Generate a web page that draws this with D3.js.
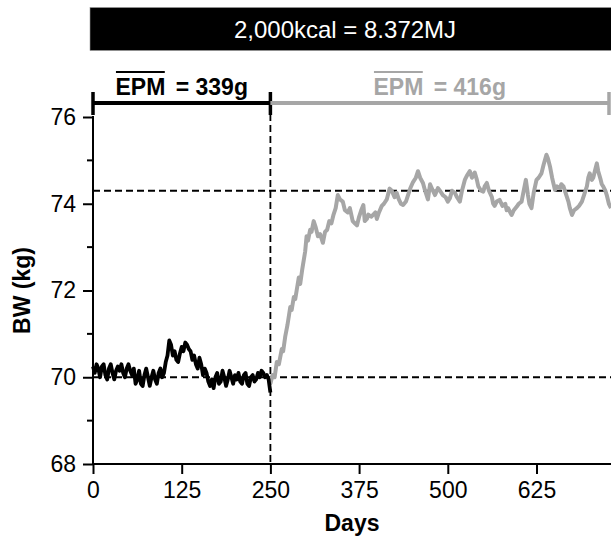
<!DOCTYPE html>
<html><head><meta charset="utf-8">
<script src="https://cdn.jsdelivr.net/npm/d3@7"></script>
<style>
html,body{margin:0;padding:0;background:#fff;}
svg{display:block;}
text{font-family:"Liberation Sans",Arial,sans-serif;}
</style></head>
<body>
<svg id="chart" width="611" height="539"></svg>
<script>
// ---- data ----
const headerText = "2,000kcal = 8.372MJ";
const phaseStarts = [0, 250];
const phaseEnds = [250, 730];
const phaseEPM = ["339g", "416g"];
const phaseMeanBW = [70.0, 74.3];
const xTicks = [0, 125, 250, 375, 500, 625];
const yTicks = [68, 70, 72, 74, 76];
const yMinorTicks = [69, 71, 73, 75];

const blackDays = [0,2.5,5,7.5,10,12.5,15,17.5,20,22.5,25,27.5,30,32.5,35,37.5,40,42.5,45,47.5,50,52.5,55,57.5,60,62.5,65,67.5,70,72.5,75,77.5,80,82.5,85,87.5,90,92.5,95,97.5,100,102.5,105,107.5,110,112.5,115,117.5,120,122.5,125,127.5,130,132.5,135,137.5,140,142.5,145,147.5,150,152.5,155,157.5,160,162.5,165,167.5,170,172.5,175,177.5,180,182.5,185,187.5,190,192.5,195,197.5,200,202.5,205,207.5,210,212.5,215,217.5,220,222.5,225,227.5,230,232.5,235,237.5,240,242.5,245,247.5,250];
const blackBW = [70.25,70.1,70.3,70.2,70.0,70.25,70.3,70.05,69.95,70.2,70.3,70.1,69.95,70.15,70.25,70.15,70.3,70.1,70.0,70.2,70.3,70.15,70.05,70.2,69.85,69.95,70.15,69.85,69.8,70.05,70.2,70.0,69.8,70.0,70.15,69.95,69.85,70.1,70.2,70.0,70.1,70.35,70.5,70.85,70.75,70.5,70.6,70.4,70.35,70.55,70.7,70.6,70.8,70.75,70.65,70.6,70.4,70.5,70.3,70.2,70.45,70.3,70.05,70.2,70.1,69.9,69.8,69.95,69.75,70.0,70.1,69.85,69.9,70.15,70.0,69.8,69.95,70.15,70.0,69.85,70.05,69.95,70.1,69.9,69.85,70.05,70.1,69.85,69.8,70.0,70.05,69.9,69.95,70.1,70.0,70.15,70.1,70.0,70.05,69.95,69.65];

const grayDays = [250,253,256,259,262,266,268,271,274,278,280,283,285,287,290,292,295,299,301,303,306,308,311,314,317,320,324,327,330,333,336,339,342,345,348,352,355,359,362,366,369,372,375,378,381,383,386,388,392,395,398,400,403,407,410,414,418,421,425,428,431,434,437,441,444,447,451,455,458,461,465,468,472,475,479,482,486,489,493,497,500,503,506,510,513,517,520,524,527,531,534,538,541,543,547,550,552,555,558,562,564,566,569,573,577,581,583,585,588,590,593,597,600,604,607,610,613,615,618,621,625,628,632,635,639,641,644,647,651,654,658,660,663,667,670,672,675,678,682,685,689,692,696,698,700,703,705,708,710,712,715,717,719,722,724,727,730];
const grayBW = [69.85,70.05,70.0,70.35,70.3,70.65,70.6,70.95,71.2,71.62,71.55,71.85,71.8,72.0,72.3,72.15,72.5,72.9,73.25,73.15,73.4,73.35,73.6,73.45,73.25,73.3,73.1,73.35,73.4,73.6,73.55,73.75,73.9,74.2,74.1,74.05,73.85,73.8,73.9,73.6,73.55,73.5,73.7,73.85,73.97,73.6,73.65,73.75,73.7,73.75,73.8,73.65,73.8,73.95,74.0,74.1,74.35,74.3,74.15,74.25,74.1,74.0,73.97,74.05,74.2,74.35,74.5,74.6,74.75,74.6,74.48,74.3,74.1,74.45,74.3,74.2,74.36,74.3,74.2,74.15,74.05,74.13,74.3,74.25,74.15,74.05,74.3,74.55,74.65,74.75,74.6,74.72,74.55,74.4,74.3,74.28,74.4,74.48,74.3,74.16,74.0,73.95,74.05,74.09,73.95,74.0,73.85,73.9,73.8,73.74,73.85,73.93,74.0,74.05,74.3,74.55,74.2,74.0,73.9,74.25,74.55,74.6,74.7,74.9,75.13,75.05,74.86,74.6,74.32,74.4,74.36,74.45,74.4,74.2,74.05,73.9,73.74,73.85,73.9,73.95,74.05,74.2,74.4,74.6,74.7,74.55,74.6,74.8,74.93,74.75,74.58,74.45,74.4,74.3,74.2,74.0,73.9];

// ---- layout ----
const svg = d3.select("#chart");
const FONT = 23;
const grayCol = "#a6a6a6";
const x = d3.scaleLinear().domain([0, 730]).range([93, 611]);
const y = d3.scaleLinear().domain([68, 76]).range([464, 117]);

// header
svg.append("rect").attr("x", 90).attr("y", 7.5).attr("width", 530).attr("height", 43)
  .attr("fill", "#000").attr("stroke", "#999").attr("stroke-width", 0.6);
svg.append("text").attr("x", 345).attr("y", 38).attr("text-anchor", "middle")
  .attr("fill", "#fff").attr("font-size", 24).text(headerText);

// dashed reference lines
svg.selectAll(".meanline").data(phaseMeanBW).enter().append("line")
  .attr("x1", x(0)).attr("x2", x(730))
  .attr("y1", d => y(d)).attr("y2", d => y(d))
  .attr("stroke", "#000").attr("stroke-width", 1.8).attr("stroke-dasharray", "7,4");
svg.append("line").attr("x1", x(250)).attr("x2", x(250)).attr("y1", 103).attr("y2", y(68))
  .attr("stroke", "#000").attr("stroke-width", 1.8).attr("stroke-dasharray", "7,4");

// lines
const line = d3.line().x(d => x(d[0])).y(d => y(d[1]));
svg.append("path").datum(grayDays.map((d, i) => [d, grayBW[i]]))
  .attr("d", line).attr("fill", "none").attr("stroke", grayCol)
  .attr("stroke-width", 4).attr("stroke-linejoin", "round");
svg.append("path").datum(blackDays.map((d, i) => [d, blackBW[i]]))
  .attr("d", line).attr("fill", "none").attr("stroke", "#000")
  .attr("stroke-width", 3.8).attr("stroke-linejoin", "round");

// axes
const xAxis = svg.append("g").attr("transform", `translate(0,${y(68)})`)
  .call(d3.axisBottom(x).tickValues(xTicks).tickSize(10).tickPadding(8).tickFormat(d3.format("d")));
const yAxis = svg.append("g").attr("transform", `translate(${x(0)},0)`)
  .call(d3.axisLeft(y).tickValues(yTicks).tickSize(10).tickPadding(7).tickFormat(d3.format("d")));
[xAxis, yAxis].forEach(g => {
  g.select(".domain").remove();
  g.selectAll(".tick line").attr("stroke", "#000").attr("stroke-width", 2);
  g.selectAll(".tick text").attr("font-size", FONT).attr("fill", "#000")
    .attr("font-family", '"Liberation Sans",Arial,sans-serif');
});
svg.append("line").attr("x1", x(0)).attr("x2", 611).attr("y1", y(68)).attr("y2", y(68))
  .attr("stroke", "#000").attr("stroke-width", 2);
svg.append("line").attr("x1", x(0)).attr("x2", x(0)).attr("y1", y(76) - 1).attr("y2", y(68))
  .attr("stroke", "#000").attr("stroke-width", 2);
svg.selectAll(".minor").data(yMinorTicks).enter().append("line")
  .attr("x1", x(0) - 6).attr("x2", x(0)).attr("y1", d => y(d)).attr("y2", d => y(d))
  .attr("stroke", "#000").attr("stroke-width", 2);

// axis titles
svg.append("text").attr("x", 352).attr("y", 531).attr("text-anchor", "middle")
  .attr("font-size", FONT).attr("font-weight", "bold").text("Days");
svg.append("text").attr("transform", `translate(30,${(y(68) + y(76)) / 2}) rotate(-90)`)
  .attr("text-anchor", "middle").attr("font-size", FONT).attr("font-weight", "bold").text("BW (kg)");

// phase bars
const barY = 103;
phaseStarts.forEach((s, i) => {
  const col = i === 0 ? "#000" : grayCol;
  const x1 = x(s), x2 = i === 0 ? x(phaseEnds[i]) : 609;
  svg.append("line").attr("x1", x1).attr("x2", x2).attr("y1", barY).attr("y2", barY)
    .attr("stroke", col).attr("stroke-width", 4);
  const caps = i === 0 ? [x1, x2] : [x2];
  caps.forEach(cx => svg.append("line").attr("x1", cx).attr("x2", cx)
    .attr("y1", barY - 11).attr("y2", barY + 12).attr("stroke", col).attr("stroke-width", 3.5));
  const t = svg.append("text").attr("x", (x1 + x2) / 2).attr("y", 95)
    .attr("text-anchor", "middle").attr("font-size", FONT).attr("font-weight", "bold").attr("fill", col);
  t.append("tspan").text("EPM");
  t.append("tspan").attr("dx", 4).text(" = " + phaseEPM[i]);
  const node = t.node();
  const bb = node.getBBox();
  const w = node.getSubStringLength(0, 3);
  svg.append("line").attr("x1", bb.x + 0.5).attr("x2", bb.x + w - 0.5).attr("y1", 72).attr("y2", 72)
    .attr("stroke", col).attr("stroke-width", 2);
});
</script>
</body></html>
